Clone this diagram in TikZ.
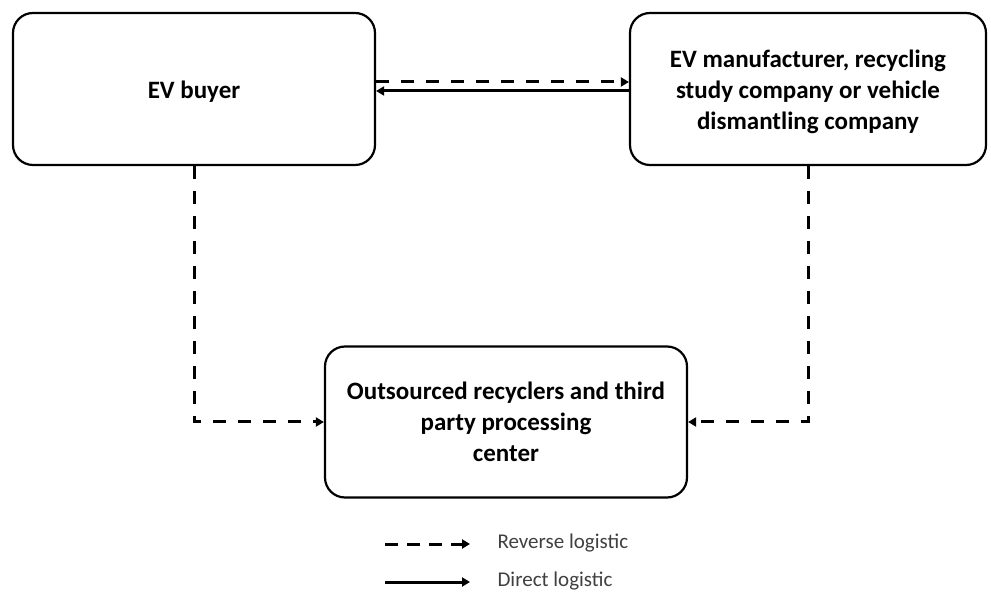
\documentclass[tikz,border=0pt]{standalone}
\usepackage{fontspec}
\setmainfont{Carlito}
\usetikzlibrary{arrows.meta}
\begin{document}
\begin{tikzpicture}[x=1pt,y=-1pt,
  box/.style={draw=black,line width=2.2pt,rounded corners=20pt,inner sep=0pt},
  boxtext/.style={align=center,font=\fontsize{25}{31}\selectfont\bfseries,inner sep=0pt},
  rev/.style={line width=3pt,dash pattern=on 13pt off 12pt,
    -{Triangle[length=8pt,width=9pt]}},
  dir/.style={line width=3pt,-{Triangle[length=8pt,width=9pt]}},
  legtext/.style={anchor=west,font=\fontsize{21}{23}\selectfont,text=black!75}]
\useasboundingbox (0,0) rectangle (991,593);
% the three boxes
\node[box,minimum width=362pt,minimum height=152pt] (buyer) at (194,89) {};
\node[box,minimum width=356pt,minimum height=152pt] (maker) at (808,89) {};
\node[box,minimum width=362pt,minimum height=151pt] (proc) at (506,422) {};
% their texts
\node[boxtext] (buyertext) at ([yshift=-3pt]buyer.center) {EV buyer};
\node[boxtext] (makertext) at ([yshift=-3pt]maker.center)
  {EV manufacturer, recycling\\study company or vehicle\\dismantling company};
\node[boxtext] (proctext) at (proc.center)
  {Outsourced recyclers and third\\party processing\\center};
% links between buyer and manufacturer
\coordinate (t1) at (buyer.east |- 0,82);
\coordinate (t2) at (maker.west |- 0,82);
\coordinate (b1) at (buyer.east |- 0,91);
\coordinate (b2) at (maker.west |- 0,91);
\draw[rev] (t1) -- (t2);
\draw[dir] (b2) -- (b1);
% returns to the processing center
\draw[rev] (buyer.south) |- (proc.west);
\draw[rev] (maker.south) |- (proc.east);
% legend
\coordinate (l1) at (385,544);
\coordinate (l2) at (470,544);
\coordinate (l3) at (385,582);
\coordinate (l4) at (470,582);
\draw[rev,dash pattern=on 13pt off 9pt] (l1) -- (l2);
\draw[dir] (l3) -- (l4);
\node[legtext] (lrev) at (494,543) {Reverse logistic};
\node[legtext] (ldir) at (494,581) {Direct logistic};
\end{tikzpicture}
\end{document}
